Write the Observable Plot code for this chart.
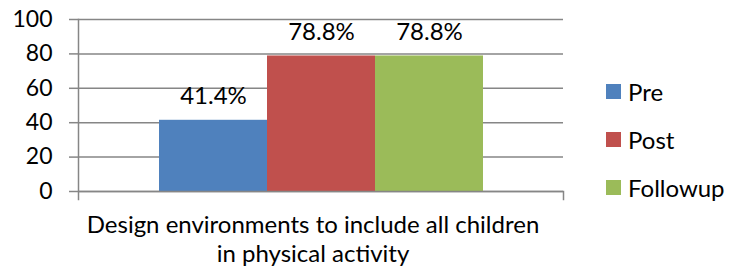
<!DOCTYPE html>
<html><head><meta charset="utf-8">
<script src="https://cdn.jsdelivr.net/npm/d3@7"></script>
<script src="https://cdn.jsdelivr.net/npm/@observablehq/plot@0.6"></script>
<style>
body{margin:0;background:#fff;}
#wrap{position:relative;width:741px;height:274px;font-family:Lato, sans-serif;}
#legend{position:absolute;left:606px;top:67px;font-size:24px;color:#000;}
#legend .item{display:flex;align-items:center;height:48px;}
#legend .sw{width:15px;height:15px;margin-right:7px;}
</style></head><body><div id="wrap"></div>
<script>
const category = ["Design environments to include all children in physical activity"];
const categoryLines = ["Design environments to include all children", "in physical activity"];
const series = ["Pre", "Post", "Followup"];
const values = [41.4, 78.8, 78.8];
const valueLabels = ["41.4%", "78.8%", "78.8%"];
const colors = ["#4F81BD", "#C0504D", "#9BBB59"];
const yTicks = [0, 20, 40, 60, 80, 100];

const data = series.map((s, i) => ({category: category[0], series: s, value: values[i], label: valueLabels[i]}));
const grey = "#868686";

const chart = Plot.plot({
  width: 741, height: 274,
  marginLeft: 78, marginRight: 178, marginTop: 19, marginBottom: 83,
  style: {fontFamily: "Lato, sans-serif", fontSize: "20px", color: "#000", background: "#fff", overflow: "visible"},
  fx: {domain: category, padding: 0, axis: null},
  x: {domain: series, paddingInner: 0, paddingOuter: 0.745, axis: null},
  y: {domain: [0, 100], axis: null},
  color: {domain: series, range: colors},
  marks: [
    Plot.gridY(yTicks, {stroke: grey, strokeOpacity: 1, strokeWidth: 1.5}),
    Plot.axisY(yTicks, {tickSize: 9, tickPadding: 17, stroke: grey, strokeWidth: 1.5, label: null, fontSize: 23, tickFormat: d => d}),
    Plot.barY(data, {fx: "category", x: "series", y: "value", fill: "series"}),
    Plot.text(data, {fx: "category", x: "series", y: "value", text: "label", dy: -16, lineAnchor: "bottom", fontSize: 24, fill: "#000"}),
    Plot.frame({anchor: "left", stroke: grey, strokeWidth: 1.5, insetBottom: -8}),
    Plot.frame({anchor: "right", stroke: grey, strokeWidth: 1.5, insetTop: 172, insetBottom: -8}),
    Plot.ruleY([0], {stroke: grey, strokeWidth: 1.5}),
    Plot.axisFx({anchor: "bottom", tickFormat: () => categoryLines.join("\n"), tickSize: 0, tickPadding: 22, lineHeight: 1.17, fontSize: 24, dx: -8, label: null})
  ]
});
const wrap = document.getElementById("wrap");
wrap.appendChild(chart);
const legend = document.createElement("div");
legend.id = "legend";
series.forEach((s, i) => {
  const item = document.createElement("div");
  item.className = "item";
  const sw = document.createElement("div");
  sw.className = "sw";
  sw.style.background = colors[i];
  const t = document.createElement("span");
  t.textContent = s;
  item.appendChild(sw); item.appendChild(t);
  legend.appendChild(item);
});
wrap.appendChild(legend);
</script></body></html>
